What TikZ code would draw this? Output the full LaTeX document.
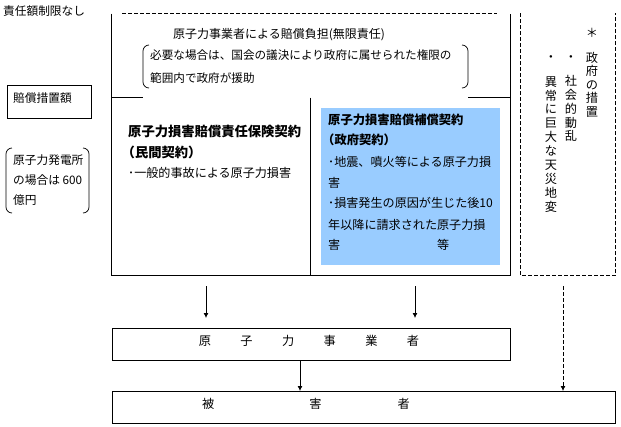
\documentclass[tikz,border=0pt]{standalone}
\usepackage{fontspec}
\setmainfont{Noto Sans CJK JP}
\usetikzlibrary{arrows.meta}
\definecolor{paleblue}{RGB}{153,204,255}
\tikzset{
  ln/.style={line width=0.8pt},
  dsh/.style={line width=0.8pt, dash pattern=on 4pt off 2pt},
  txt/.style={inner sep=0pt, anchor=base west, font=\fontsize{12.1}{14}\selectfont},
  ttxt/.style={inner sep=0pt, anchor=base west, font=\fontsize{12}{14}\selectfont},
  ntxt/.style={inner sep=0pt, anchor=base west, font=\fontsize{11.6}{14}\selectfont},
  stxt/.style={inner sep=0pt, anchor=base west, font=\fontsize{11.7}{14}\selectfont},
  btxt/.style={inner sep=0pt, anchor=base west, font=\fontsize{13.3}{14}\selectfont\bfseries},
  bbtxt/.style={inner sep=0pt, anchor=base west, font=\fontsize{12.3}{14}\selectfont\bfseries},
  ctxt/.style={inner sep=0pt, anchor=base, font=\fontsize{12.2}{14}\selectfont},
  arr/.style={line width=0.8pt, -{Latex[length=5pt,width=5pt]}},
  darr/.style={arr, dash pattern=on 4pt off 2pt},
  box/.style={draw, line width=0.8pt, inner sep=0pt, anchor=north west},
}
\begin{document}
\begin{tikzpicture}[x=1pt,y=-1pt]
\useasboundingbox (0,0) rectangle (621,426);
% main frame
\coordinate (mtl) at (111.5,13.5);
\coordinate (mtr) at (510.5,13.5);
\coordinate (mbl) at (111.5,275.7);
\coordinate (mbr) at (510.5,275.7);
\coordinate (dtl) at (122,13.5);
\coordinate (dtr) at (497,13.5);
\draw[ln] (mtl) -- (mbl) -- (mbr) -- (mtr);
\draw[dsh] (dtl) -- (dtr);
% horizontal divider (partly hidden)
\coordinate (hl1) at (111.5,97.7);
\coordinate (hl2) at (143,97.7);
\coordinate (hr1) at (468,97.7);
\coordinate (hr2) at (510.5,97.7);
\draw[ln] (hl1) -- (hl2);
\draw[ln] (hr1) -- (hr2);
% middle divider
\coordinate (mdt) at (310.5,97.7);
\coordinate (mdb) at (310.5,275.7);
\draw[ln] (mdt) -- (mdb);
% right dashed box
\coordinate (rtl) at (520.5,13);
\coordinate (rbl) at (520.5,275.5);
\coordinate (rbr) at (615.5,275.5);
\coordinate (rtr) at (615.5,13);
\draw[dsh] (rtl) -- (rbl) -- (rbr) -- (rtr);
% blue box
\node[fill=paleblue, inner sep=0pt, minimum width=179pt, minimum height=157pt, anchor=north west] (blue) at (321,108) {};
% brackets top
\draw[ln, line width=0.7pt] (149,45) to[out=180,in=90] (143,51) -- (143,82) to[out=-90,in=180] (149,88);
\draw[ln, line width=0.7pt] (462,45) to[out=0,in=90] (468,51) -- (468,82) to[out=-90,in=0] (462,88);
% brackets left
\draw[ln, line width=0.7pt] (12,148) to[out=180,in=90] (6,154) -- (6,207) to[out=-90,in=180] (12,213);
\draw[ln, line width=0.7pt] (83,148) to[out=0,in=90] (89,154) -- (89,207) to[out=-90,in=0] (83,213);
% texts top-left
\node[stxt] (t0) at (3,15.5) {責任額制限なし};
\node[ttxt] (t1) at (173,38.5) {原子力事業者による賠償負担(無限責任)};
\node[ntxt] (t2) at (150,59.5) {必要な場合は、国会の議決により政府に属せられた権限の};
\node[ntxt] (t3) at (150,82.5) {範囲内で政府が援助};
\node[box, minimum width=84pt, minimum height=33pt] (sochi) at (7,85) {};
\node[stxt] (t4) at (13,102.5) {賠償措置額};
\node[stxt] (t5) at (13,164.5) {原子力発電所};
\node[stxt] (t6) at (13,184.5) {の場合は 600};
\node[stxt] (t7) at (13,204.5) {億円};
% left column
\node[btxt] (l1) at (128,136.5) {原子力損害賠償責任保険契約};
\node[btxt] (l2) at (121.5,157.5) {（民間契約）};
\node[txt] (l3) at (128,177.5) {･一般的事故による原子力損害};
% blue column
\node[bbtxt] (b1) at (328,124.5) {原子力損害賠償補償契約};
\node[bbtxt] (b2) at (322,144.5) {（政府契約）};
\node[txt] (b3) at (328,166.5) {･地震、噴火等による原子力損};
\node[txt] (b4) at (328,187.5) {害};
\node[txt] (b5) at (328,207.5) {･損害発生の原因が生じた後10};
\node[txt] (b6) at (328,229.5) {年以降に請求された原子力損};
\node[txt] (b7) at (328,249.5) {害};
\node[txt] (b8) at (437,249.5) {等};
% vertical text
\node[ctxt] (ast) at (592,37.6) {＊};
\foreach \ch [count=\k from 0] in {政,府,の,措,置}
  \node[ctxt] (va\k) at (592,{62.1+13.5*\k}) {\ch};
\node[ctxt] (dot2) at (571,61.6) {・};
\foreach \ch [count=\k from 0] in {社,会,的,動,乱}
  \node[ctxt] (vb\k) at (571,{85.6+13.8*\k}) {\ch};
\node[ctxt] (dot3) at (551,61.6) {・};
\foreach \ch [count=\k from 0] in {異,常,に,巨,大,な,天,災,地,変}
  \node[ctxt] (vc\k) at (551,{86.1+13.9*\k}) {\ch};
% bottom boxes
\node[box, minimum width=398pt, minimum height=32pt] (jig) at (112,328) {};
\node[ctxt] (jigt) at (309,345.6) {原\hspace{29.4pt}子\hspace{29.4pt}力\hspace{29.4pt}事\hspace{29.4pt}業\hspace{29.4pt}者};
\node[box, minimum width=503pt, minimum height=32pt] (hig) at (112,391) {};
\node[ctxt, anchor=base west] (higt) at (202,408.6) {被\hspace{95pt}害\hspace{76pt}者};
% arrows
\coordinate (a1s) at (206,286);
\coordinate (a1e) at (206,318);
\coordinate (a2s) at (415,286);
\coordinate (a2e) at (415,318);
\coordinate (a3s) at (300,360);
\coordinate (a3e) at (300,391);
\coordinate (a4s) at (563,286);
\coordinate (a4e) at (563,391);
\draw[arr] (a1s) -- (a1e);
\draw[arr] (a2s) -- (a2e);
\draw[arr] (a3s) -- (a3e);
\draw[darr] (a4s) -- (a4e);
\end{tikzpicture}
\end{document}
